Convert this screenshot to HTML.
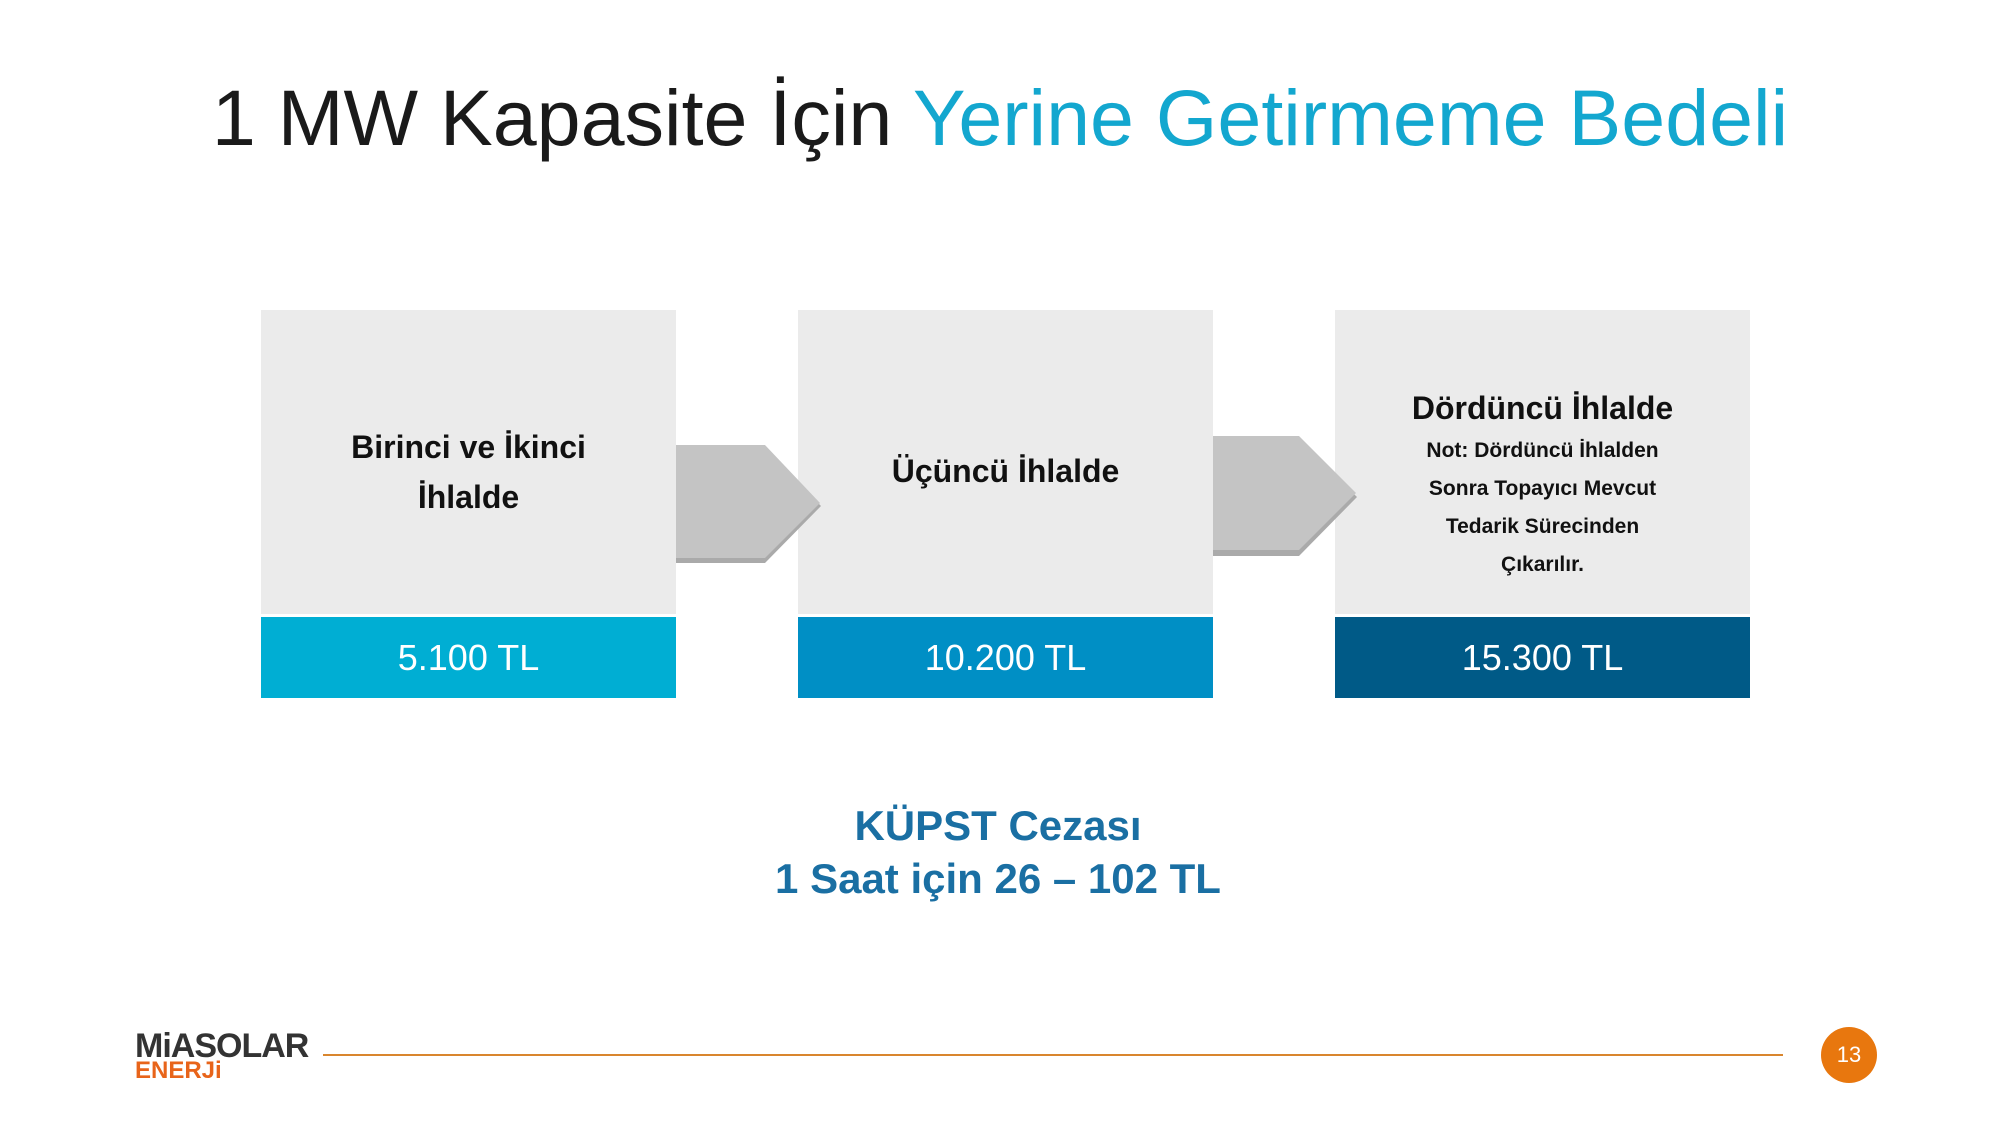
<!DOCTYPE html>
<html><head><meta charset="utf-8"><style>
body{margin:0;width:2000px;height:1125px;background:#fff;position:relative;overflow:hidden;font-family:"Liberation Sans",sans-serif}
.a{position:absolute}
.box{position:absolute;top:310px;width:415px;height:304px;background:#ebebeb}
.price{position:absolute;top:617px;width:415px;height:81px;color:#fff;font-size:36px;font-weight:300;text-align:center;line-height:81px}
.t{position:absolute;width:415px;text-align:center;font-weight:bold;color:#111}
</style></head><body>
<div class="a" style="left:0;width:2000px;top:72px;text-align:center;font-size:79px;font-weight:300;color:#1a1a1a;white-space:nowrap">1 MW Kapasite İçin <span style="color:#13a7cf">Yerine Getirmeme Bedeli</span></div>

<div class="box" style="left:261px"></div>
<div class="box" style="left:798px"></div>
<div class="box" style="left:1335px"></div>
<div class="price" style="left:261px;background:#00aed3">5.100 TL</div>
<div class="price" style="left:798px;background:#008fc5">10.200 TL</div>
<div class="price" style="left:1335px;background:#005a87">15.300 TL</div>

<svg class="a" style="left:0;top:0" width="2000" height="1125">
<polygon points="676,447 765,447 821,503 765,560 676,560" fill="#aaa" transform="translate(0,3)"/>
<polygon points="676,445 765,445 820,503 765,558 676,558" fill="#c4c4c4"/>
<polygon points="1213,438 1299,438 1357,494 1299,553 1213,553" fill="#aaa" transform="translate(0,3)"/>
<polygon points="1213,436 1299,436 1356,493 1299,550 1213,550" fill="#c4c4c4"/>
</svg>

<div class="t" style="left:261px;top:422px;font-size:32px;line-height:50px">Birinci ve İkinci<br>İhlalde</div>
<div class="t" style="left:798px;top:450px;font-size:32px;line-height:42px">Üçüncü İhlalde</div>
<div class="t" style="left:1335px;top:387px;font-size:32px;line-height:42px">Dördüncü İhlalde</div>
<div class="t" style="left:1335px;top:432px;font-size:21px;line-height:38px">Not: Dördüncü İhlalden<br>Sonra Topayıcı Mevcut<br>Tedarik Sürecinden<br>Çıkarılır.</div>

<div class="a" style="left:0;width:1996px;top:799px;text-align:center;font-size:42px;font-weight:bold;color:#1a6fa3;line-height:53px">KÜPST Cezası<br>1 Saat için 26 – 102 TL</div>

<div class="a" style="left:323px;top:1054px;width:1460px;height:2px;background:#d9862e"></div>
<div class="a" style="left:135px;top:1031px;font-size:34px;font-weight:bold;color:#333;letter-spacing:-1px;line-height:30px">MiASOLAR</div>
<div class="a" style="left:135px;top:1059px;font-size:24px;font-weight:bold;color:#e8641a;line-height:24px">ENERJi</div>
<div class="a" style="left:1821px;top:1027px;width:56px;height:56px;border-radius:50%;background:#e8770e;color:#fff;font-size:22px;text-align:center;line-height:56px">13</div>
</body></html>
